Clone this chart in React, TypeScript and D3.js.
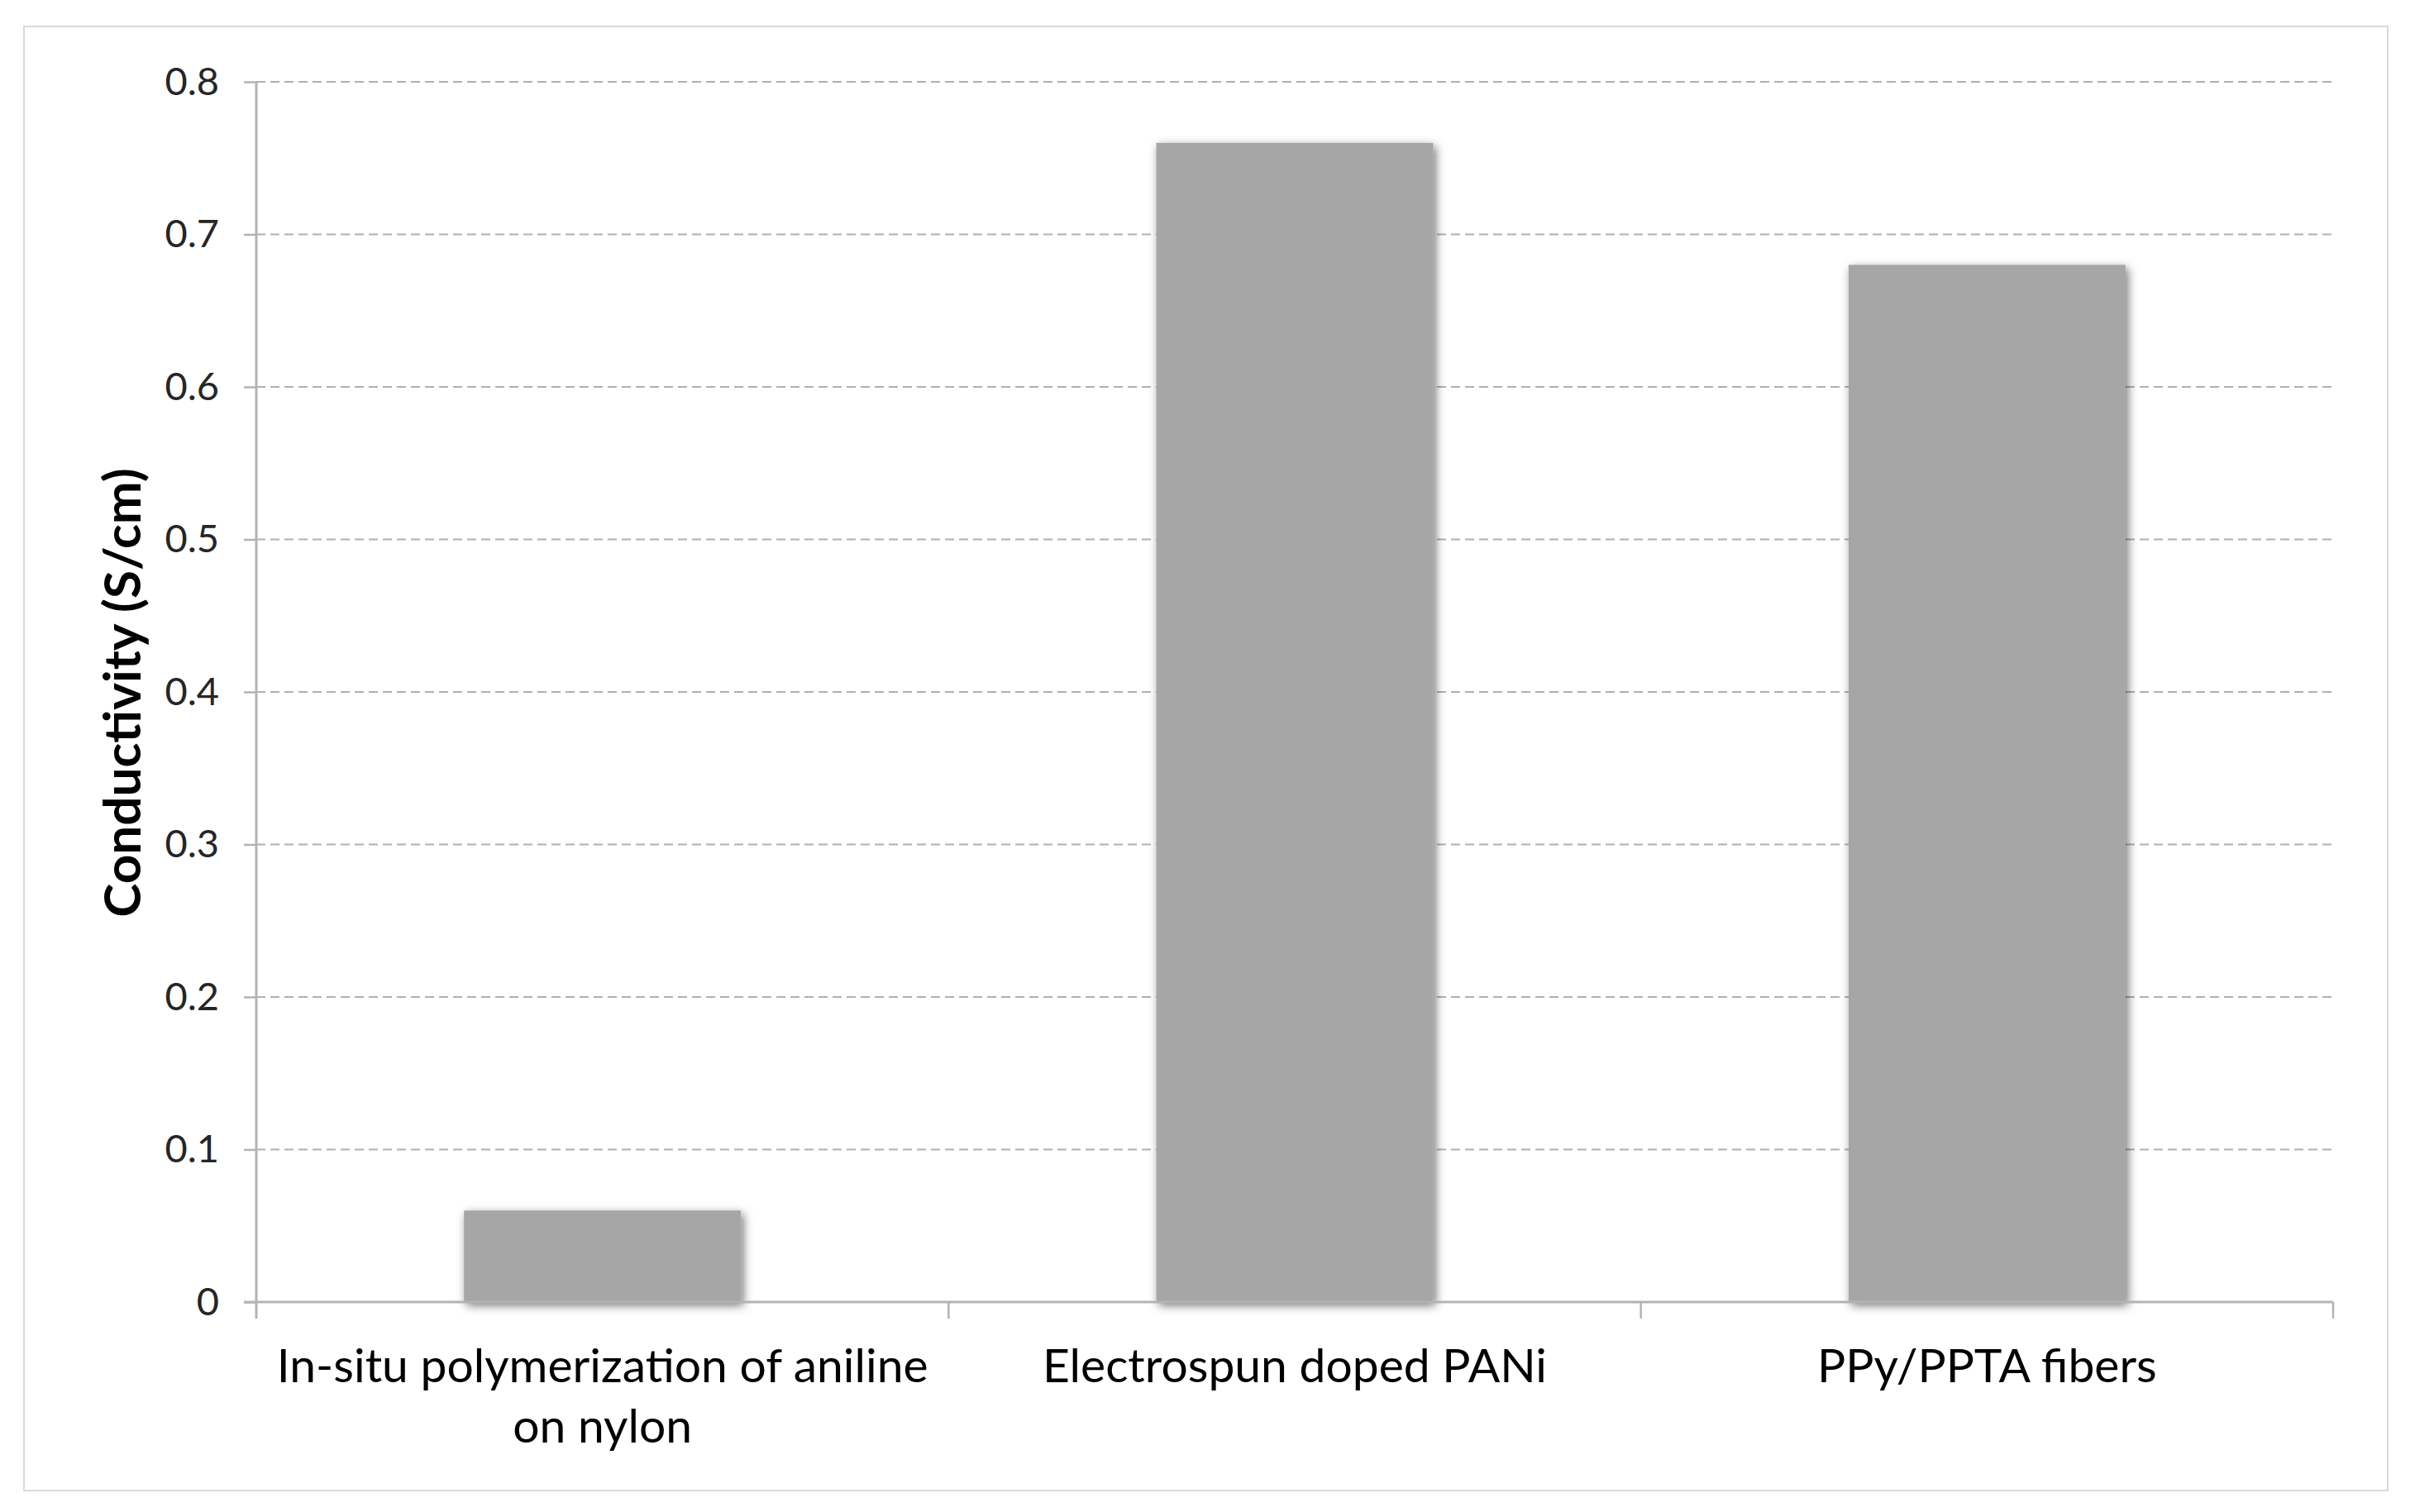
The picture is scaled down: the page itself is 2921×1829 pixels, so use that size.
import React, { useEffect, useRef } from 'react';
import * as d3 from 'd3';

// categorias (com quebra de linha manual como no original)
const categories = ['In-situ polymerization of aniline|on nylon', 'Electrospun doped PANi', 'PPy/PPTA fibers'];
const conductivity = [0.06, 0.76, 0.68];
const yTicks = [0, 0.1, 0.2, 0.3, 0.4, 0.5, 0.6, 0.7, 0.8];
const yTitle = 'Conductivity (S/cm)';

const App = () => {
  const chartRef = useRef<SVGSVGElement>(null);

  useEffect(() => {
    const W = 2921;
    const H = 1829;
    const margin = { top: 99, right: 2921 - 2822, bottom: 1829 - 1575, left: 310 };
    const width = W - margin.left - margin.right;
    const height = H - margin.top - margin.bottom;
    const font = 'Lato, Carlito, Calibri, sans-serif';

    const root = d3.select(chartRef.current);
    root.selectAll('*').remove();
    root.attr('width', W).attr('height', H);

    // sombra das barras
    const defs = root.append('defs');
    defs.append('filter')
      .attr('id', 'barShadow')
      .attr('x', '-20%').attr('y', '-20%').attr('width', '140%').attr('height', '140%')
      .append('feDropShadow')
      .attr('dx', 3).attr('dy', 4).attr('stdDeviation', 6)
      .attr('flood-color', '#000').attr('flood-opacity', 0.55);

    root.append('rect')
      .attr('x', 0).attr('y', 0).attr('width', W).attr('height', H).attr('fill', '#fff');

    // moldura externa
    root.append('rect')
      .attr('x', 29).attr('y', 32).attr('width', 2888 - 29).attr('height', 1803 - 32)
      .attr('fill', 'none').attr('stroke', '#d9d9d9').attr('stroke-width', 2);

    const svg = root.append('g').attr('transform', `translate(${margin.left},${margin.top})`);

    const x = d3.scaleBand<string>()
      .domain(categories)
      .range([0, width])
      .paddingInner(0.6)
      .paddingOuter(0.3);

    const slot = d3.scaleBand<string>().domain(categories).range([0, width]).padding(0);

    const y = d3.scaleLinear().domain([0, 0.8]).range([height, 0]);

    // linhas de grade tracejadas
    svg.append('g')
      .selectAll('line')
      .data(yTicks.filter(t => t > 0))
      .enter().append('line')
      .attr('x1', 0).attr('x2', width)
      .attr('y1', d => y(d)).attr('y2', d => y(d))
      .attr('stroke', '#b0b0b0').attr('stroke-width', 2)
      .attr('stroke-dasharray', '11 6');

    // barras
    svg.selectAll('rect.bar')
      .data(conductivity)
      .enter().append('rect')
      .attr('class', 'bar')
      .attr('x', (d, i) => x(categories[i]) as number)
      .attr('y', d => y(d))
      .attr('width', x.bandwidth())
      .attr('height', d => height - y(d))
      .attr('fill', '#a6a6a6')
      .attr('filter', 'url(#barShadow)');

    // eixo Y
    const yAxis = svg.append('g')
      .call(d3.axisLeft(y).tickValues(yTicks).tickSize(15).tickPadding(30)
        .tickFormat(d => (d === 0 ? '0' : d3.format('.1f')(d as number))));
    yAxis.select('.domain').remove();
    yAxis.selectAll('.tick line').attr('stroke', '#b3b3b3').attr('stroke-width', 2.5);
    yAxis.selectAll('.tick text')
      .attr('font-family', font).attr('font-size', 47).attr('fill', '#262626');
    svg.append('line')
      .attr('x1', 0).attr('x2', 0).attr('y1', 0).attr('y2', height + 20)
      .attr('stroke', '#b3b3b3').attr('stroke-width', 3);

    // eixo X
    const boundaries = categories.map(c => slot(c) as number).concat([width]);
    svg.append('line')
      .attr('x1', -15).attr('x2', width).attr('y1', height).attr('y2', height)
      .attr('stroke', '#b3b3b3').attr('stroke-width', 3);
    svg.append('g')
      .selectAll('line')
      .data(boundaries.slice(1))
      .enter().append('line')
      .attr('x1', d => d).attr('x2', d => d)
      .attr('y1', height).attr('y2', height + 20)
      .attr('stroke', '#b3b3b3').attr('stroke-width', 2.5);

    const labels = svg.append('g')
      .selectAll('text')
      .data(categories)
      .enter().append('text')
      .attr('x', d => (slot(d) as number) + slot.bandwidth() / 2)
      .attr('y', height + 97)
      .attr('text-anchor', 'middle')
      .attr('font-family', font).attr('font-size', 57).attr('fill', '#000');
    labels.each(function (d) {
      const parts = d.split('|');
      const t = d3.select(this);
      parts.forEach((p, i) => {
        t.append('tspan')
          .attr('x', (slot(d) as number) + slot.bandwidth() / 2)
          .attr('dy', i === 0 ? 0 : 73)
          .text(p);
      });
    });

    // título do eixo Y
    root.append('text')
      .attr('transform', `translate(170,838) rotate(-90)`)
      .attr('text-anchor', 'middle')
      .attr('font-family', font).attr('font-size', 62).attr('font-weight', 'bold')
      .attr('fill', '#000')
      .text(yTitle);
  }, []);

  return <svg ref={chartRef} style={{ position: 'absolute', left: 0, top: 0 }}></svg>;
};

export default App;
